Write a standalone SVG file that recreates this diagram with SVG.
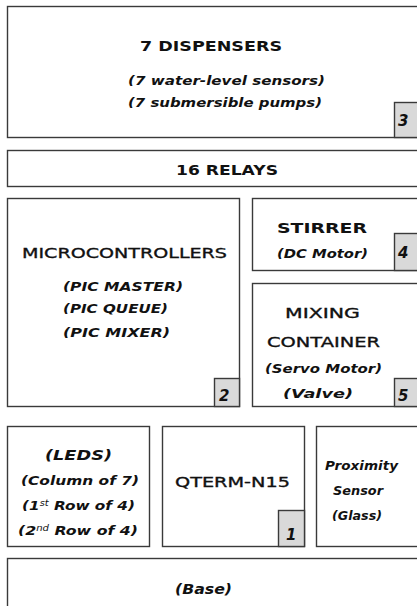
<svg xmlns="http://www.w3.org/2000/svg" width="417" height="606" viewBox="0 0 417 606">
<style>
.box{fill:#ffffff;stroke:#3a3a3a;stroke-width:1.4}
.badge{fill:#d9d9d9;stroke:#3a3a3a;stroke-width:1.4}
text{font-family:"DejaVu Sans","Verdana",sans-serif;fill:#111111}
.h{font-size:14.5px;font-weight:bold}
.n{font-size:14.5px;font-weight:normal;stroke:#111111;stroke-width:0.35}
.s{font-size:12.5px;font-weight:bold;font-style:italic}
.si{font-size:14px;font-weight:bold;font-style:italic}
.num{font-size:15px;font-weight:bold;font-style:italic}
</style>
<rect width="417" height="606" fill="#ffffff"/>
<g id="dispensers">
<rect class="box" x="7.5" y="6.5" width="420" height="131"/>
<rect class="badge" x="394.5" y="102.5" width="30" height="35"/>
<text class="h" x="140" y="51" textLength="142" lengthAdjust="spacingAndGlyphs">7 DISPENSERS</text>
<text class="s" x="128" y="85" textLength="197" lengthAdjust="spacingAndGlyphs">(7 water-level sensors)</text>
<text class="s" x="128" y="107" textLength="194" lengthAdjust="spacingAndGlyphs">(7 submersible pumps)</text>
<text class="num" x="398" y="126">3</text>
</g>
<g id="relays">
<rect class="box" x="7.5" y="150.5" width="420" height="36"/>
<text class="h" x="176" y="175" textLength="102" lengthAdjust="spacingAndGlyphs">16 RELAYS</text>
</g>
<g id="microcontrollers">
<rect class="box" x="7.5" y="198.5" width="232" height="208"/>
<rect class="badge" x="214.5" y="378.5" width="25" height="28"/>
<text class="n" x="22" y="258" textLength="205" lengthAdjust="spacingAndGlyphs">MICROCONTROLLERS</text>
<text class="s" x="63" y="291" textLength="120" lengthAdjust="spacingAndGlyphs">(PIC MASTER)</text>
<text class="s" x="63" y="313" textLength="105" lengthAdjust="spacingAndGlyphs">(PIC QUEUE)</text>
<text class="s" x="63" y="337" textLength="107" lengthAdjust="spacingAndGlyphs">(PIC MIXER)</text>
<text class="num" x="219" y="401">2</text>
</g>
<g id="stirrer">
<rect class="box" x="252.5" y="198.5" width="170" height="72"/>
<rect class="badge" x="394.5" y="233.5" width="30" height="37"/>
<text class="h" x="277" y="233" textLength="90" lengthAdjust="spacingAndGlyphs">STIRRER</text>
<text class="s" x="277" y="258" textLength="91" lengthAdjust="spacingAndGlyphs">(DC Motor)</text>
<text class="num" x="398" y="258">4</text>
</g>
<g id="mixing">
<rect class="box" x="252.5" y="283.5" width="170" height="123"/>
<rect class="badge" x="394.5" y="378.5" width="30" height="28"/>
<text class="n" x="285" y="318" textLength="75" lengthAdjust="spacingAndGlyphs">MIXING</text>
<text class="n" x="267" y="347" textLength="113" lengthAdjust="spacingAndGlyphs">CONTAINER</text>
<text class="s" x="265" y="373" textLength="117" lengthAdjust="spacingAndGlyphs">(Servo Motor)</text>
<text class="s" x="283" y="398" textLength="70" lengthAdjust="spacingAndGlyphs">(Valve)</text>
<text class="num" x="398" y="401">5</text>
</g>
<g id="leds">
<rect class="box" x="7.5" y="426.5" width="142" height="120"/>
<text class="si" x="45" y="460" textLength="67" lengthAdjust="spacingAndGlyphs">(LEDS)</text>
<text class="s" x="21" y="485" textLength="118" lengthAdjust="spacingAndGlyphs">(Column of 7)</text>
<text class="s" x="22" y="510" textLength="113" lengthAdjust="spacingAndGlyphs">(1<tspan font-size="8" font-weight="normal" baseline-shift="4">st</tspan> Row of 4)</text>
<text class="s" x="18" y="535" textLength="120" lengthAdjust="spacingAndGlyphs">(2<tspan font-size="8" font-weight="normal" baseline-shift="4">nd</tspan> Row of 4)</text>
</g>
<g id="qterm">
<rect class="box" x="162.5" y="426.5" width="142" height="120"/>
<rect class="badge" x="278.5" y="510.5" width="26" height="36"/>
<text class="n" x="175" y="487" textLength="115" lengthAdjust="spacingAndGlyphs">QTERM-N15</text>
<text class="num" x="286" y="540">1</text>
</g>
<g id="proximity">
<rect class="box" x="316.5" y="426.5" width="110" height="120"/>
<text class="s" x="325" y="470" textLength="73" lengthAdjust="spacingAndGlyphs">Proximity</text>
<text class="s" x="333" y="495" textLength="50" lengthAdjust="spacingAndGlyphs">Sensor</text>
<text class="s" x="332" y="520" textLength="50" lengthAdjust="spacingAndGlyphs">(Glass)</text>
</g>
<g id="base">
<rect class="box" x="7.5" y="558.5" width="420" height="60"/>
<text class="si" x="175" y="594" textLength="57" lengthAdjust="spacingAndGlyphs">(Base)</text>
</g>
<g id="connectors"></g>
</svg>
